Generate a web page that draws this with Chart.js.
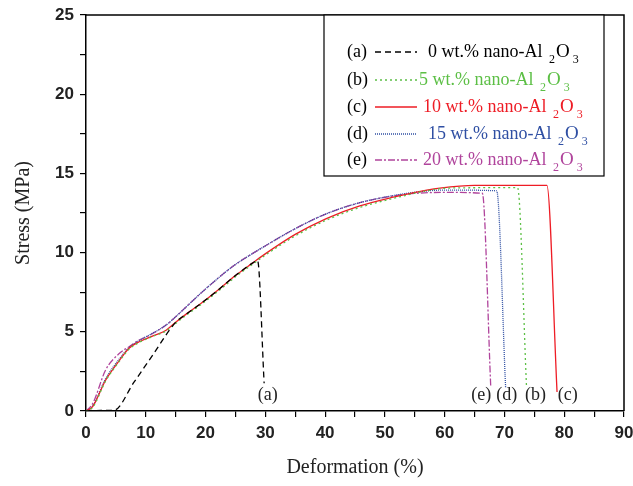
<!DOCTYPE html>
<html><head><meta charset="utf-8">
<script src="https://cdn.jsdelivr.net/npm/chart.js@4.4.1/dist/chart.umd.min.js"></script>
<style>html,body{margin:0;padding:0;background:#fff}#wrap{width:633px;height:486px}</style>
</head><body><div id="wrap"><canvas id="c" width="633" height="486"></canvas></div>
<script>
// ---- data ----
const seriesNames = ['(a)', '(b)', '(c)', '(d)', '(e)'];
const contents = ['0', '5', '10', '15', '20'];
const xA = [0, 2.5, 4.7, 8, 11.1, 15, 16.7, 19.1, 22.3, 25, 27.9, 28.7, 29.8];
const yA = [0, 0.03, 0.05, 1.8, 3.5, 5.6, 6.1, 6.75, 7.7, 8.55, 9.35, 9.5, 1.75];
const xB = [0, 1.1, 3.3, 5.6, 7.2, 8.9, 11.1, 13.4, 15, 16.7, 19.1, 22.3, 25, 27.9, 30.1, 35, 40.2, 45.8, 51.4, 57, 61, 72.2, 73.7];
const yB = [0, 0.22, 1.9, 3.15, 3.9, 4.33, 4.7, 5.05, 5.53, 6.03, 6.68, 7.62, 8.47, 9.27, 9.87, 11.05, 12.05, 12.85, 13.42, 13.9, 14.08, 14.1, 1.45];
const xC = [0, 1.1, 3.3, 5.6, 7.2, 8.9, 11.1, 13.4, 15, 16.7, 19.1, 22.3, 25, 27.9, 30.1, 35, 40.2, 45.8, 51.4, 57, 62.5, 65, 77.1, 78.8];
const yC = [0, 0.27, 1.96, 3.2, 3.96, 4.37, 4.73, 5.1, 5.6, 6.1, 6.75, 7.7, 8.55, 9.35, 9.95, 11.15, 12.15, 12.95, 13.5, 13.95, 14.2, 14.25, 14.25, 1.2];
const xD = [0, 1.1, 3.3, 5.6, 7.2, 8.9, 11.1, 13.4, 15, 16.7, 19.1, 22.3, 25, 27.9, 30.1, 34.7, 40.2, 45.8, 51.4, 55.9, 60, 68.7, 70.2];
const yD = [0, 0.3, 2.05, 3.3, 4.0, 4.45, 4.9, 5.43, 5.95, 6.55, 7.4, 8.45, 9.25, 9.95, 10.45, 11.45, 12.45, 13.15, 13.6, 13.85, 13.95, 13.9, 1.45];
const xE = [0, 1.1, 3.3, 5.6, 7.2, 8.9, 10.6, 13.4, 15, 16.7, 19.1, 22.3, 25, 27.9, 30.1, 34.7, 40.2, 45.8, 51.4, 55.9, 60, 66.3, 67.7];
const yE = [0, 0.45, 2.6, 3.64, 4.06, 4.48, 4.78, 5.43, 5.95, 6.55, 7.4, 8.45, 9.25, 9.95, 10.45, 11.45, 12.45, 13.15, 13.58, 13.76, 13.8, 13.75, 1.6];
const xTicks = [0, 10, 20, 30, 40, 50, 60, 70, 80, 90];
const yTicks = [0, 5, 10, 15, 20, 25];

const colors = ['#000000', '#5cbf45', '#ee1c25', '#2f4fa3', '#b0449c'];
const dashes = [[6, 4], [2, 3], [], [1, 1], [7, 2, 2, 2]];
const xs = [xA, xB, xC, xD, xE], ys = [yA, yB, yC, yD, yE];

const pts = (xa, ya) => xa.map((x, i) => ({x, y: ya[i]}));
const datasets = xs.map((xa, i) => ({
  label: seriesNames[i],
  data: pts(xa, ys[i]),
  showLine: true, pointRadius: 0, borderWidth: 1.3,
  borderColor: colors[i], borderDash: dashes[i],
  cubicInterpolationMode: 'monotone', fill: false
}));

const serif = "'Liberation Serif','DejaVu Serif',serif";
const sans = "'Liberation Sans',Arial,sans-serif";

const decor = {
  id: 'decor',
  afterDraw(chart) {
    const ctx = chart.ctx, a = chart.chartArea;
    const sx = chart.scales.x;
    ctx.save();
    ctx.strokeStyle = '#000'; ctx.lineWidth = 1.5;
    ctx.beginPath(); ctx.moveTo(a.left, a.top); ctx.lineTo(a.right, a.top); ctx.lineTo(a.right, a.bottom); ctx.stroke();
    ctx.lineWidth = 1.2;
    ctx.fillStyle = '#fff';
    ctx.fillRect(324, a.top, 280, 161);
    ctx.strokeRect(324, a.top, 280, 161);
    const rowY = [52, 80, 107, 134, 160];
    const textX = [428, 419, 423, 428, 423];
    ctx.textBaseline = 'middle';
    for (let i = 0; i < 5; i++) {
      const y = rowY[i];
      ctx.fillStyle = '#000';
      ctx.font = '18px ' + serif; ctx.textAlign = 'left';
      ctx.fillText(seriesNames[i], 347, y);
      ctx.strokeStyle = colors[i]; ctx.lineWidth = 1.3; ctx.setLineDash(dashes[i]);
      ctx.beginPath(); ctx.moveTo(375, y); ctx.lineTo(417, y); ctx.stroke();
      ctx.setLineDash([]);
      ctx.fillStyle = colors[i];
      let x = textX[i];
      const main = contents[i] + ' wt.% nano-Al ';
      ctx.font = '18px ' + serif;
      ctx.fillText(main, x, y); x += ctx.measureText(main).width + 2;
      ctx.font = '12px ' + serif; ctx.fillText('2', x, y + 8); x += ctx.measureText('2').width + 1;
      ctx.font = '19px ' + serif; ctx.fillText('O', x, y); x += ctx.measureText('O').width + 3;
      ctx.font = '12px ' + serif; ctx.fillText('3', x, y + 8);
    }
    ctx.fillStyle = '#222'; ctx.font = '18px ' + serif; ctx.textAlign = 'center';
    const lab = [[0, 30.4], [4, 66.1], [3, 70.4], [1, 75.2], [2, 80.6]];
    lab.forEach(([i, xv]) => ctx.fillText(seriesNames[i], sx.getPixelForValue(xv), 395));
    ctx.restore();
  }
};

new Chart(document.getElementById('c'), {
  type: 'scatter',
  data: {datasets},
  plugins: [decor],
  options: {
    responsive: false, animation: false, devicePixelRatio: 1,
    layout: {padding: {top: 15, right: 9, left: 0, bottom: 0}},
    plugins: {legend: {display: false}, tooltip: {enabled: false}},
    scales: {
      x: {
        type: 'linear', min: 0, max: 90,
        afterFit: s => { s.height = 75; s.paddingLeft = 0; s.paddingRight = 0; },
        afterBuildTicks: s => { s.ticks = []; for (let v = 0; v <= 90; v += 5) s.ticks.push({value: v}); },
        ticks: {autoSkip: false, maxRotation: 0, padding: 6, color: '#222',
          font: {family: sans, size: 17, weight: 'bold'},
          callback: v => xTicks.includes(v) ? String(v) : ''},
        grid: {drawOnChartArea: false, drawTicks: true, tickLength: 6, color: '#000', lineWidth: 1.2},
        border: {color: '#000', width: 1.5},
        title: {display: true, text: 'Deformation (%)', color: '#222',
          font: {family: serif, size: 20}, padding: {top: 0, bottom: 6}}
      },
      y: {
        type: 'linear', min: 0, max: 25,
        afterFit: s => { s.width = 86; s.paddingTop = 0; s.paddingBottom = 0; },
        afterBuildTicks: s => { s.ticks = []; for (let v = 0; v <= 25; v += 2.5) s.ticks.push({value: v}); },
        ticks: {autoSkip: false, padding: 6, color: '#222',
          font: {family: sans, size: 17, weight: 'bold'},
          callback: v => yTicks.includes(v) ? String(v) : ''},
        grid: {drawOnChartArea: false, drawTicks: true, tickLength: 6, color: '#000', lineWidth: 1.2},
        border: {color: '#000', width: 1.5},
        title: {display: true, text: 'Stress (MPa)', color: '#222',
          font: {family: serif, size: 20}, padding: {top: 12, bottom: 0}}
      }
    }
  }
});
</script></body></html>
